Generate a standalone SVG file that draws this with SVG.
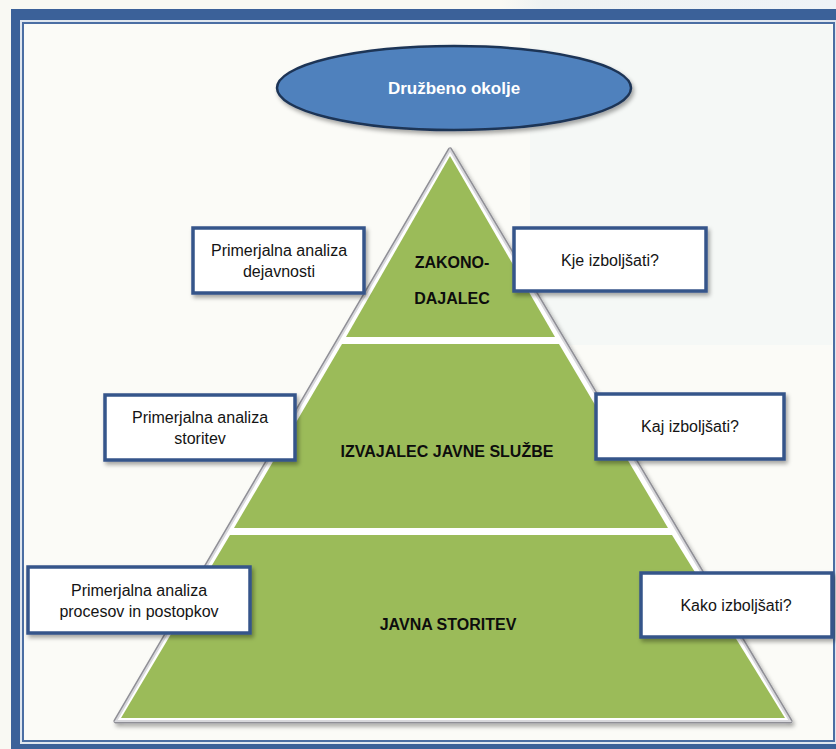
<svg xmlns="http://www.w3.org/2000/svg" width="836" height="749" viewBox="0 0 836 749">
<defs>
<style>
.box{fill:#ffffff;stroke:#34558a;stroke-width:3.5}
.bt{font-family:"Liberation Sans",Arial,sans-serif;font-size:16px;fill:#141414;text-anchor:middle}
.pt{font-family:"Liberation Sans",Arial,sans-serif;font-size:16px;font-weight:bold;fill:#0d0d0d;text-anchor:middle}
.lvl{fill:#9bbb59}
</style>
<filter id="sh" x="-10%" y="-10%" width="130%" height="140%">
<feDropShadow dx="2" dy="3" stdDeviation="2" flood-color="#000" flood-opacity="0.35"/>
</filter>
<linearGradient id="bg" x1="0" y1="0" x2="1" y2="0">
<stop offset="0" stop-color="#f9f9f3"/>
<stop offset="0.6" stop-color="#f9f9f3"/>
<stop offset="0.65" stop-color="#eef2f2"/>
<stop offset="1" stop-color="#eff3f7"/>
</linearGradient>
</defs>
<rect x="0" y="0" width="836" height="749" fill="url(#bg)"/>
<rect x="11" y="9" width="830" height="745" fill="#3b6199"/>
<rect x="20" y="20" width="820" height="724" fill="#dfe6ef"/>
<rect x="23" y="23" width="811" height="718" fill="#fbfbf7" stroke="#4b6ea3" stroke-width="2"/>
<rect x="530" y="25" width="302" height="320" fill="#f1f5f6" opacity="0.55"/>
<g id="connectors"></g>
<g id="pyramid">
<polygon points="450,150 116,721 790,721" fill="none" stroke="#8f8f96" stroke-width="5" stroke-linejoin="round" filter="url(#sh)"/>
<polygon points="450,150 116,721 790,721" fill="#ffffff" stroke="#d8d8dc" stroke-width="2"/>
</g>
<g id="level-top">
<polygon class="lvl" points="450,156 346,337 555,337"/>
<text class="pt" x="452" y="268">ZAKONO-</text>
<text class="pt" x="452" y="304">DAJALEC</text>
</g>
<g id="level-mid">
<polygon class="lvl" points="342,344 559,344 668,528 234,528"/>
<text class="pt" x="447" y="457">IZVAJALEC JAVNE SLUŽBE</text>
</g>
<g id="level-bottom">
<polygon class="lvl" points="230,535 672,535 785,718 121,718"/>
<text class="pt" x="448" y="630">JAVNA STORITEV</text>
</g>
<g id="druzbeno-okolje">
<ellipse cx="454" cy="88" rx="177" ry="42" fill="#4f81bd" stroke="#1f3456" stroke-width="2.5" filter="url(#sh)"/>
<text x="454" y="94" font-family="Liberation Sans,Arial,sans-serif" font-size="17" font-weight="bold" fill="#ffffff" text-anchor="middle">Družbeno okolje</text>
</g>
<g id="box-dejavnosti">
<rect class="box" x="193" y="228" width="171" height="65" filter="url(#sh)"/>
<text class="bt" x="279" y="256">Primerjalna analiza</text>
<text class="bt" x="279" y="277">dejavnosti</text>
</g>
<g id="box-kje">
<rect class="box" x="514" y="228" width="192" height="63" filter="url(#sh)"/>
<text class="bt" x="610" y="266">Kje izboljšati?</text>
</g>
<g id="box-storitev">
<rect class="box" x="105" y="395" width="190" height="65" filter="url(#sh)"/>
<text class="bt" x="200" y="423">Primerjalna analiza</text>
<text class="bt" x="200" y="444">storitev</text>
</g>
<g id="box-kaj">
<rect class="box" x="596" y="394" width="188" height="65" filter="url(#sh)"/>
<text class="bt" x="690" y="432">Kaj izboljšati?</text>
</g>
<g id="box-procesov">
<rect class="box" x="28" y="567" width="222" height="66" filter="url(#sh)"/>
<text class="bt" x="139" y="596">Primerjalna analiza</text>
<text class="bt" x="139" y="617">procesov in postopkov</text>
</g>
<g id="box-kako">
<rect class="box" x="641" y="573" width="191" height="64" filter="url(#sh)"/>
<text class="bt" x="736" y="611">Kako izboljšati?</text>
</g>
</svg>
